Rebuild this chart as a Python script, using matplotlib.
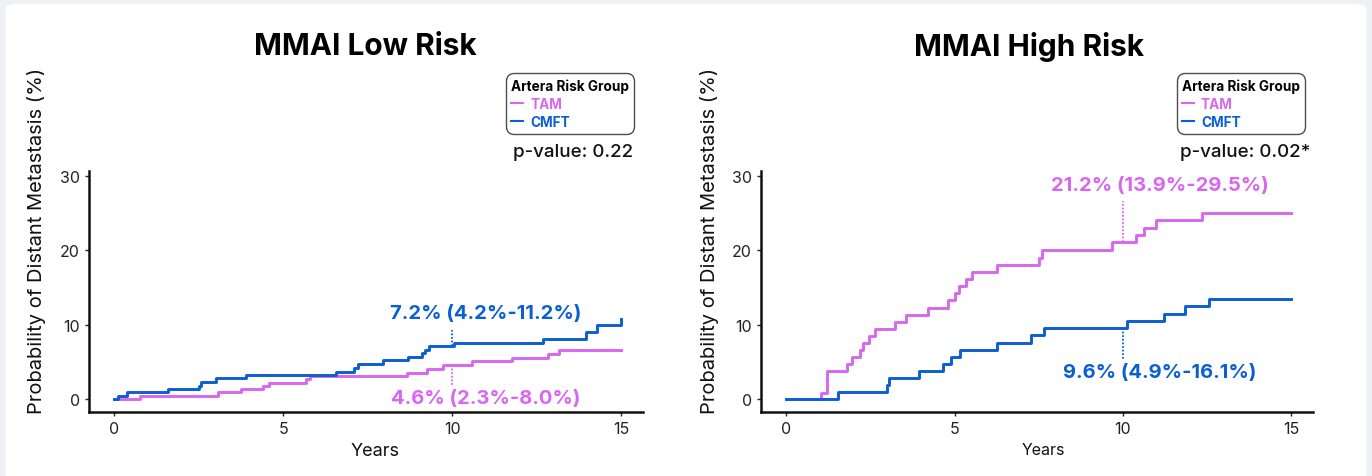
import matplotlib
matplotlib.use('Agg')
import matplotlib.pyplot as plt
from matplotlib.lines import Line2D
from matplotlib.patches import FancyBboxPatch

plt.rcParams['font.family'] = ['Inter', 'DejaVu Sans']

# series data (years, cumulative incidence %)
low_cmft_t = [0, 0.1, 0.36, 1.6, 2.5, 2.55, 3.0, 3.9, 6.55, 7.1, 7.2, 7.95, 8.7, 9.1, 9.2, 9.3, 10.05, 12.7, 13.95, 14.3, 15.0]
low_cmft_y = [0, 0.4, 1.0, 1.4, 1.8, 2.3, 2.8, 3.2, 3.7, 4.2, 4.7, 5.2, 5.6, 6.2, 6.6, 7.1, 7.6, 8.1, 9.0, 9.9, 10.8]
low_tam_t = [0, 0.75, 3.07, 3.74, 4.39, 4.58, 5.68, 5.8, 8.65, 9.26, 9.74, 10.58, 11.77, 12.84, 13.16, 15.0]
low_tam_y = [0, 0.45, 0.9, 1.35, 1.8, 2.2, 2.65, 3.05, 3.55, 4.05, 4.55, 5.1, 5.55, 6.1, 6.65, 6.65]

high_tam_t = [0, 1.02, 1.21, 1.81, 1.94, 2.19, 2.28, 2.45, 2.65, 3.23, 3.57, 4.2, 4.8, 5.0, 5.14, 5.34,
              5.51, 6.25, 7.5, 7.61, 9.69, 10.4, 10.63, 10.98, 12.36, 15.0]
high_tam_y = [0, 0.85, 3.8, 4.7, 5.65, 6.6, 7.55, 8.5, 9.45, 10.4, 11.35, 12.3, 13.3, 14.25, 15.2, 16.15,
              17.1, 18.1, 19.05, 20.1, 21.15, 22.1, 23.05, 24.05, 25.05, 25.05]
high_cmft_t = [0, 1.54, 2.98, 3.04, 3.94, 4.66, 4.9, 5.16, 6.26, 7.26, 7.65, 10.13, 11.23, 11.85, 12.57, 15.0]
high_cmft_y = [0, 0.9, 1.85, 2.8, 3.75, 4.7, 5.65, 6.6, 7.55, 8.55, 9.5, 10.5, 11.5, 12.5, 13.5, 13.5]

titles = ['MMAI Low Risk', 'MMAI High Risk']
pvalues = ['p-value: 0.22', 'p-value: 0.02*']
groups = ['TAM', 'CMFT']
x_ticks = [0, 5, 10, 15]
y_ticks = [0, 10, 20, 30]

# 10-year estimates: (label, value, dotted line end, text x, text y, group)
low_notes = [('7.2% (4.2%-11.2%)', 7.2, 9.3, 11.0, 11.6, 'CMFT'),
             ('4.6% (2.3%-8.0%)', 4.6, 1.9, 11.0, 0.2, 'TAM')]
high_notes = [('21.2% (13.9%-29.5%)', 21.2, 26.6, 11.1, 28.8, 'TAM'),
              ('9.6% (4.9%-16.1%)', 9.6, 5.2, 11.1, 3.6, 'CMFT')]

colors = {'TAM': '#d966f0', 'CMFT': '#0a5fd2'}

fig = plt.figure(figsize=(13.72, 4.77), dpi=100)
fig.patch.set_facecolor('#edf0f5')
panel = FancyBboxPatch((0.004, -0.05), 0.992, 1.04, boxstyle='round,pad=0,rounding_size=0.01',
                       transform=fig.transFigure, facecolor='white', edgecolor='none', zorder=-10)
fig.patches.append(panel)

ax1 = fig.add_axes([0.0649, 0.1342, 0.4038, 0.5052])
ax2 = fig.add_axes([0.5547, 0.1342, 0.4023, 0.5052])

panels = [
    (ax1, low_tam_t, low_tam_y, low_cmft_t, low_cmft_y, low_notes, 0.498, 0.984, 0.982, 0.516, 13),
    (ax2, high_tam_t, high_tam_y, high_cmft_t, high_cmft_y, high_notes, 0.486, 0.9855, 0.9946, 0.511, 11.5),
]

for i, (ax, tt, ty, ct, cy, notes, tx, lx, px, xlx, xl_size) in enumerate(panels):
    ax.set_facecolor('none')
    ax.step(tt, ty, where='post', color=colors['TAM'], lw=2.1, zorder=3)
    ax.step(ct, cy, where='post', color=colors['CMFT'], lw=2.1, zorder=3)

    for label, val, end, txx, txy, grp in notes:
        ax.plot([10, 10], [val, end], color=colors[grp], lw=1.3, ls=(0, (1, 1)), zorder=2)
        ax.text(txx, txy, label, color=colors[grp], fontsize=14.5, fontweight='bold',
                ha='center', va='center')

    ax.set_xlim(-0.75, 15.65)
    ax.set_ylim(-1.75, 30.7)
    ax.set_xticks(x_ticks)
    ax.set_yticks(y_ticks)
    ax.tick_params(labelsize=11.5, colors='#222222', length=3, width=1)
    for s in ['top', 'right']:
        ax.spines[s].set_visible(False)
    for s in ['left', 'bottom']:
        ax.spines[s].set_linewidth(1.8)
        ax.spines[s].set_color('#111111')

    ax.set_ylabel('Probability of Distant Metastasis (%)', fontsize=14.5, color='#111111')
    ax.yaxis.set_label_coords(-0.077, 0.714)
    ax.set_xlabel('Years', fontsize=xl_size, color='#111111')
    ax.xaxis.set_label_coords(xlx, -0.124)

    ax.text(tx, 1.52, titles[i], transform=ax.transAxes, ha='center', va='center',
            fontsize=21.5, fontweight='bold', color='black')
    ax.text(px, 1.083, pvalues[i], transform=ax.transAxes, ha='right', va='center',
            fontsize=13.5, fontweight='medium', color='#111111')

    handles = [Line2D([0], [0], color=colors[g], lw=1.5) for g in groups]
    leg = ax.legend(handles, groups, title='Artera Risk Group', loc='upper right',
                    bbox_to_anchor=(lx, 1.407), bbox_transform=ax.transAxes,
                    borderaxespad=0, handlelength=0.9, handletextpad=0.5,
                    labelspacing=0.3, borderpad=0.38, fontsize=9.8,
                    title_fontproperties={'weight': 'bold', 'size': 9.8},
                    frameon=True, fancybox=True, alignment='left')
    leg.get_frame().set_edgecolor('#222222')
    leg.get_frame().set_linewidth(1.0)
    leg.get_frame().set_boxstyle('round,pad=0,rounding_size=0.6')
    for txt, g in zip(leg.get_texts(), groups):
        txt.set_color(colors[g])
        txt.set_fontweight('bold')

fig.savefig('out.png', dpi=100)
